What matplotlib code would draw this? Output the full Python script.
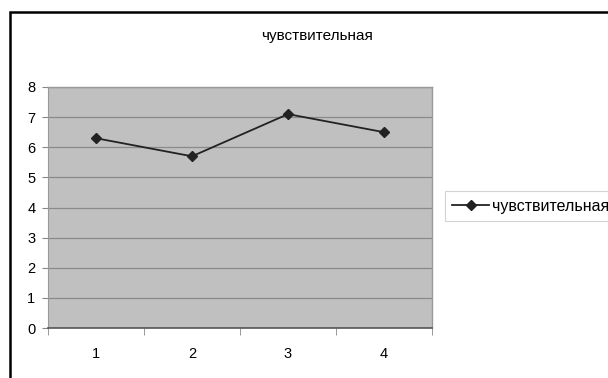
import matplotlib
matplotlib.use("Agg")
import matplotlib.pyplot as plt
from matplotlib.patches import Rectangle

plt.rcParams['font.family'] = ['Liberation Sans', 'DejaVu Sans']

categories = [1, 2, 3, 4]
values = [6.3, 5.7, 7.1, 6.5]
series_name = "чувствительная"
y_ticks = [0, 1, 2, 3, 4, 5, 6, 7, 8]

W, H = 608, 378
fig = plt.figure(figsize=(W / 100, H / 100), dpi=100)
fig.patch.set_facecolor("white")

# outer chart frame (runs off the right and bottom edges)
fig.add_artist(Rectangle((10 / W, -0.05), 1.2, 1 - 12 / H + 0.05,
                         transform=fig.transFigure, fill=False,
                         edgecolor="black", linewidth=1.8, clip_on=False))

ax = fig.add_axes([48 / W, 1 - 328 / H, (432 - 48) / W, (328 - 87) / H])
ax.set_facecolor("#c0c0c0")

ax.plot(categories, values, color="#222222", linewidth=1.3, marker="D",
        markersize=5.5, markerfacecolor="#222222", markeredgecolor="#222222",
        label=series_name, zorder=3)

ax.set_xlim(0.5, 4.5)
ax.set_ylim(0, 8)
ax.set_yticks(y_ticks)
ax.yaxis.grid(True, color="#8a8a8a", linewidth=0.9)
ax.set_axisbelow(True)

# category labels centred, tick marks between categories
ax.set_xticks(categories)
ax.set_xticklabels([str(c) for c in categories])
ax.tick_params(axis="x", which="major", length=0, pad=14, labelsize=10.5)
ax.set_xticks([0.5, 1.5, 2.5, 3.5, 4.5], minor=True)
ax.tick_params(axis="x", which="minor", length=5, color="#888888", direction="out")
ax.tick_params(axis="y", length=4, color="#888888", labelsize=10.5, pad=5)

for side in ["top", "right"]:
    ax.spines[side].set_color("#999999")
    ax.spines[side].set_linewidth(1.0)
ax.spines["left"].set_color("#999999")
ax.spines["bottom"].set_color("#555555")
ax.spines["bottom"].set_linewidth(1.2)

fig.text(317 / W, 1 - 36 / H, series_name, ha="center", va="center", fontsize=11)

leg = fig.legend(loc="center left", bbox_to_anchor=(445 / W, 1 - 206 / H),
                 frameon=True, fancybox=False, fontsize=11.5, handlelength=2.3,
                 borderpad=0.45, handletextpad=0.2, borderaxespad=0,
                 markerscale=0.85)
leg.get_frame().set_edgecolor("#c8c8c8")
leg.get_frame().set_linewidth(0.8)

fig.savefig("out.png", dpi=100, facecolor="white")
